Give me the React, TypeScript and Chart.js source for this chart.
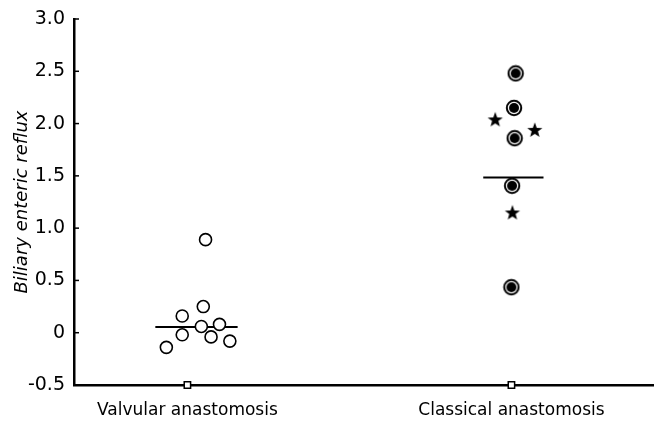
import React, { useEffect, useRef } from "react";
import { Chart, registerables } from "chart.js";
Chart.register(...registerables);

const categories = ["Valvular anastomosis", "Classical anastomosis"];
const categoryX = [1, 2];
const yTicks = [-0.5, 0, 0.5, 1.0, 1.5, 2.0, 2.5, 3.0];

// Valvular anastomosis: open circles (x = category + jitter)
const valvularX = [1.056, 1.049, 0.984, 1.043, 1.099, 0.984, 1.073, 1.131, 0.935];
const valvularY = [0.89, 0.25, 0.16, 0.06, 0.08, -0.02, -0.04, -0.08, -0.14];
const valvularMedian = 0.055;
const valvularMedianX = [0.901, 1.155];

// Classical anastomosis: ringed dots and stars
const classicalDotX = [2.013, 2.008, 2.01, 2.002, 2.0];
const classicalDotY = [2.48, 2.15, 1.86, 1.405, 0.435];
const classicalStarX = [1.95, 2.072, 2.003];
const classicalStarY = [2.04, 1.94, 1.15];
const classicalMedian = 1.485;
const classicalMedianX = [1.913, 2.099];

function makeRingDot(): HTMLCanvasElement {
  const c = document.createElement("canvas");
  c.width = 18; c.height = 18;
  const g = c.getContext("2d")!;
  g.fillStyle = "#fff";
  g.beginPath(); g.arc(9, 9, 7.2, 0, Math.PI * 2); g.fill();
  g.strokeStyle = "#000"; g.lineWidth = 2;
  g.beginPath(); g.arc(9, 9, 7.2, 0, Math.PI * 2); g.stroke();
  g.fillStyle = "#000";
  g.beginPath(); g.arc(9, 9, 5.0, 0, Math.PI * 2); g.fill();
  return c;
}

function makeStar(): HTMLCanvasElement {
  const c = document.createElement("canvas");
  c.width = 18; c.height = 18;
  const g = c.getContext("2d")!;
  g.fillStyle = "#000";
  g.beginPath();
  for (let i = 0; i < 10; i++) {
    const r = i % 2 === 0 ? 8 : 3.3;
    const a = -Math.PI / 2 + (i * Math.PI) / 5;
    const x = 9 + r * Math.cos(a);
    const y = 9.6 + r * Math.sin(a);
    if (i === 0) g.moveTo(x, y); else g.lineTo(x, y);
  }
  g.closePath();
  g.fill();
  return c;
}

const innerTicks = {
  id: "innerTicks",
  afterDraw(chart: any) {
    const { ctx, chartArea, scales } = chart;
    ctx.save();
    ctx.strokeStyle = "#000";
    ctx.lineWidth = 1.5;
    for (const v of yTicks) {
      const y = scales.y.getPixelForValue(v);
      ctx.beginPath();
      ctx.moveTo(chartArea.left, y);
      ctx.lineTo(chartArea.left + 5, y);
      ctx.stroke();
    }
    ctx.restore();
  },
};

export default function App() {
  const ref = useRef<HTMLCanvasElement | null>(null);
  useEffect(() => {
    document.body.style.margin = "0";
    const ring = makeRingDot();
    const star = makeStar();
    const font = "'DejaVu Sans', sans-serif";
    const chart = new Chart(ref.current!, {
      type: "scatter",
      data: {
        datasets: [
          {
            label: "Valvular",
            data: valvularX.map((x, i) => ({ x, y: valvularY[i] })),
            pointStyle: "circle",
            pointRadius: 6,
            pointBorderWidth: 1.6,
            pointBorderColor: "#000",
            pointBackgroundColor: "#fff",
          },
          {
            label: "Classical dots",
            data: classicalDotX.map((x, i) => ({ x, y: classicalDotY[i] })),
            pointStyle: ring as any,
          },
          {
            label: "Classical stars",
            data: classicalStarX.map((x, i) => ({ x, y: classicalStarY[i] })),
            pointStyle: star as any,
          },
          {
            type: "line",
            label: "Valvular median",
            data: valvularMedianX.map((x) => ({ x, y: valvularMedian })),
            borderColor: "#000",
            borderWidth: 2,
            pointRadius: 0,
          },
          {
            type: "line",
            label: "Classical median",
            data: classicalMedianX.map((x) => ({ x, y: classicalMedian })),
            borderColor: "#000",
            borderWidth: 2,
            pointRadius: 0,
          },
          {
            label: "Category markers",
            data: categoryX.map((x) => ({ x, y: -0.5 })),
            pointStyle: "rect",
            pointRadius: 4.5,
            pointBorderWidth: 1.5,
            pointBorderColor: "#000",
            pointBackgroundColor: "#fff",
            clip: false,
          } as any,
        ],
      },
      options: {
        animation: false,
        responsive: false,
        layout: { autoPadding: false, padding: { top: 19, right: 0, left: 0, bottom: 0 } },
        plugins: { legend: { display: false }, tooltip: { enabled: false } },
        scales: {
          x: {
            type: "linear",
            min: 0.65,
            max: 2.44,
            afterFit: (s: any) => { s.height = 43; },
            afterBuildTicks: (s: any) => { s.ticks = categoryX.map((v) => ({ value: v })); },
            ticks: {
              color: "#000",
              font: { family: font, size: 17 },
              padding: 7,
              callback: (v: any) => categories[categoryX.indexOf(Number(v))] ?? "",
            },
            grid: { display: false },
            border: { display: true, color: "#000", width: 2.5 },
          },
          y: {
            min: -0.5,
            max: 3.0,
            afterFit: (s: any) => { s.width = 74; },
            afterBuildTicks: (s: any) => { s.ticks = yTicks.map((v) => ({ value: v })); },
            ticks: {
              color: "#000",
              font: { family: font, size: 19 },
              padding: 1,
              callback: (v: any) => (Number(v) === 0 ? "0" : Number(v).toFixed(1)),
            },
            grid: { display: false },
            border: { display: true, color: "#000", width: 2.5 },
            title: {
              display: true,
              text: "Biliary enteric reflux",
              color: "#000",
              font: { family: font, size: 18, style: "italic" },
              padding: { top: 12, bottom: 0 },
            },
          },
        },
      },
      plugins: [innerTicks],
    });
    return () => chart.destroy();
  }, []);
  return (
    <div style={{ width: 654, height: 428, background: "#fff" }}>
      <canvas ref={ref} width={654} height={428} style={{ display: "block" }} />
    </div>
  );
}
